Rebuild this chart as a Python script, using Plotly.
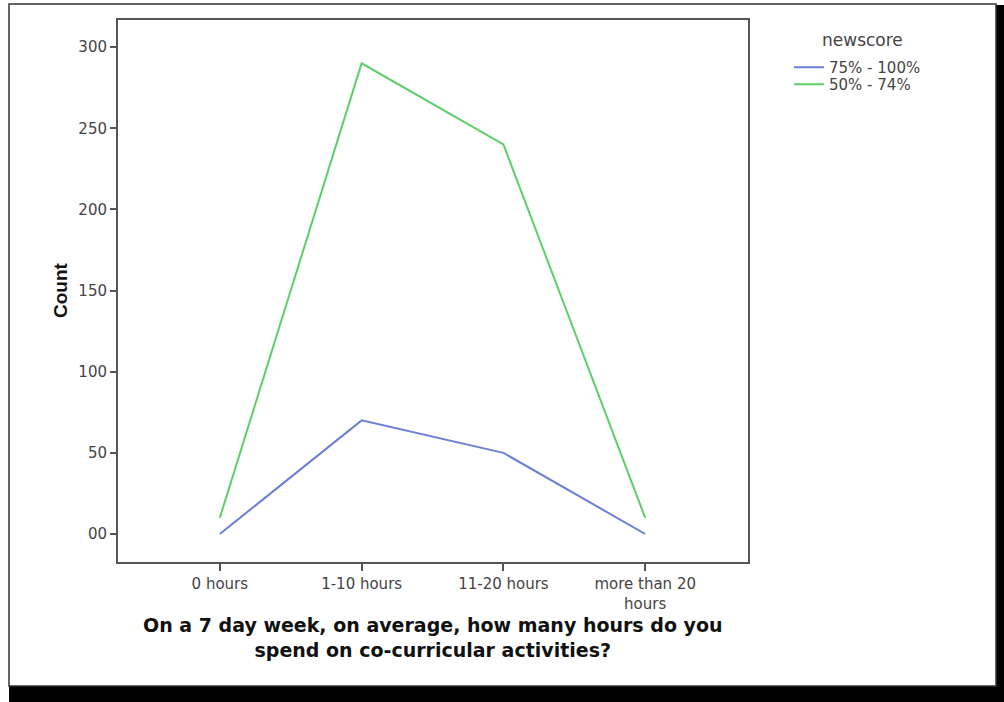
import plotly.graph_objects as go

categories = ["0 hours", "1-10 hours", "11-20 hours", "more than 20<br>hours"]
series_names = ["75% - 100%", "50% - 74%"]
values_75_100 = [0, 70, 50, 0]
values_50_74 = [10, 290, 240, 10]
series_colors = ["#6b7fd6", "#5ccf68"]
y_tick_vals = [0, 50, 100, 150, 200, 250, 300]
y_tick_text = ["00", "50", "100", "150", "200", "250", "300"]

W, H = 1004, 702
L, R, T, B = 118, 748, 20, 562  # plot box in pixels


def px(x):
    return (x - L) / (R - L)


def py(y):
    return (B - y) / (B - T)


TXT = "DejaVu Sans, Verdana, sans-serif"

fig = go.Figure()
legend_ids = ["legend", "legend2"]
for name, vals, col, lg in zip(series_names, [values_75_100, values_50_74], series_colors, legend_ids):
    fig.add_trace(go.Scatter(x=categories, y=vals, mode="lines", name=name, legend=lg,
                             line=dict(color=col, width=2)))

axis_col = "#555555"
legend_common = dict(xanchor="left", yanchor="top", font=dict(size=15, color="#444444", family=TXT),
                     bgcolor="rgba(0,0,0,0)", borderwidth=0)
fig.update_layout(
    width=W, height=H,
    margin=dict(l=L, r=W - R, t=T, b=H - B, pad=0),
    paper_bgcolor="black", plot_bgcolor="white",
    font=dict(family=TXT, color="#444444", size=15),
    showlegend=True,
    legend=dict(x=px(789), y=py(51), **legend_common),
    legend2=dict(x=px(789), y=py(68), **legend_common),
    xaxis=dict(type="category", range=[-0.718, 3.725], showgrid=False, zeroline=False,
               showline=True, linecolor=axis_col, linewidth=2, mirror=True,
               ticks="outside", ticklen=7, tickwidth=2, tickcolor=axis_col,
               tickfont=dict(size=15, color="#444444", family=TXT)),
    yaxis=dict(range=[-17.25, 316.7], showgrid=False, zeroline=False,
               showline=True, linecolor=axis_col, linewidth=2, mirror=True,
               ticks="outside", ticklen=6, tickwidth=2, tickcolor=axis_col,
               tickvals=y_tick_vals, ticktext=y_tick_text,
               tickfont=dict(size=15, color="#444444", family=TXT)),
)

# White page areas over the black background (black remains as the shadow bands)
fig.add_shape(type="rect", xref="paper", yref="paper", x0=px(-2), x1=px(1006), y0=py(5), y1=py(-2),
              line=dict(width=0), fillcolor="white", layer="below")
fig.add_shape(type="rect", xref="paper", yref="paper", x0=px(-2), x1=px(9), y0=py(704), y1=py(-2),
              line=dict(width=0), fillcolor="white", layer="below")
fig.add_shape(type="rect", xref="paper", yref="paper", x0=px(9), x1=px(996), y0=py(686), y1=py(4),
              line=dict(color="#333333", width=1.5), fillcolor="white", layer="below")

# Axis titles and legend title
fig.add_annotation(x=px(60), y=py(290), xref="paper", yref="paper", text="<b>Count</b>",
                   textangle=-90, showarrow=False, xanchor="center", yanchor="middle",
                   font=dict(size=19, color="#111111", family="Liberation Sans, Arial"))
fig.add_annotation(x=0.5, y=py(637), xref="paper", yref="paper",
                   text="<b>On a 7 day week, on average, how many hours do you<br>spend on co-curricular activities?</b>",
                   showarrow=False, align="center", xanchor="center", yanchor="middle",
                   font=dict(size=19, color="#111111", family=TXT))
fig.add_annotation(x=px(862), y=py(40), xref="paper", yref="paper", text="newscore",
                   showarrow=False, xanchor="center", yanchor="middle",
                   font=dict(size=17, color="#444444", family=TXT))

fig.write_html("out.html", config={"displayModeBar": False},
               post_script="document.body.style.margin='0';document.body.style.overflow='hidden';")
